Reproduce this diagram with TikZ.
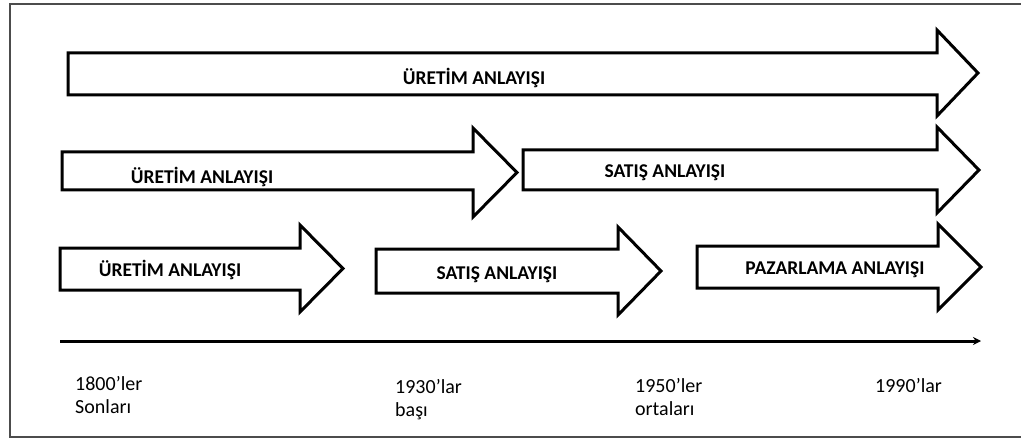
\documentclass[tikz,border=0pt]{standalone}
\usepackage{fontspec}
\setmainfont{Carlito}
\usetikzlibrary{arrows.meta}

% block arrow: #1 name, #2 left x, #3 shaft top, #4 shaft bottom,
% #5 head base x, #6 head top, #7 head bottom, #8 tip x
\newcommand{\blockarrow}[8]{%
  \draw[blockline] (#2,#3) -- (#5,#3) -- (#5,#6) -- (#8,{(#6+#7)/2})
    -- (#5,#7) -- (#5,#4) -- (#2,#4) -- cycle;
  \coordinate (#1) at ({(#2+#5)/2},{(#3+#4)/2});
}

\begin{document}
\begin{tikzpicture}[x=1pt,y=-1pt,
  blockline/.style={line width=3pt,line join=miter,fill=white},
  frameline/.style={line width=1.6pt,draw=black!70},
  phase/.style={font=\fontsize{19.5}{23}\selectfont\bfseries,inner sep=0pt},
  era/.style={font=\fontsize{20}{23}\selectfont,inner sep=0pt,anchor=base west},
  timeline/.style={line width=3pt,-{Stealth[length=8pt,width=8pt]}}]
\useasboundingbox (0,0) rectangle (1021,441);

% outer frame (open to the right)
\draw[frameline] (1025,4) -- (10,4) -- (10,437) -- (1025,437);

% top row
\blockarrow{a1}{68}{53}{95}{937}{30}{116}{978}
\node[phase] (t1) at (474,78) {ÜRETİM ANLAYIŞI};

% middle row
\blockarrow{a2}{62}{152}{190}{473}{128}{217}{517}
\blockarrow{a3}{523}{150}{190}{937}{127}{213}{979}
\node[phase] (t2) at (202,177) {ÜRETİM ANLAYIŞI};
\node[phase] (t3) at (665,173) {SATIŞ ANLAYIŞI};

% bottom row
\blockarrow{a4}{60}{248}{290}{300}{225}{312}{343}
\blockarrow{a5}{376}{249}{293}{618}{227}{315}{661}
\blockarrow{a6}{697}{246}{288}{938}{224}{310}{981}
\node[phase] (t4) at (170,270) {ÜRETİM ANLAYIŞI};
\node[phase] (t5) at (497,275) {SATIŞ ANLAYIŞI};
\node[phase] (t6) at (835,270) {PAZARLAMA ANLAYIŞI};

% time axis
\coordinate (ts) at (60,341);
\coordinate (te) at (981,341);
\draw[timeline] (ts) -- (te);

% period labels
\node[era] (d1) at (75,390) {1800’ler};
\node[era] (d1b) at (75,413) {Sonları};
\node[era] (d2) at (395,393) {1930’lar};
\node[era] (d2b) at (395,416) {başı};
\node[era] (d3) at (635,392) {1950’ler};
\node[era] (d3b) at (635,415) {ortaları};
\node[era] (d4) at (875,392) {1990’lar};
\end{tikzpicture}
\end{document}
